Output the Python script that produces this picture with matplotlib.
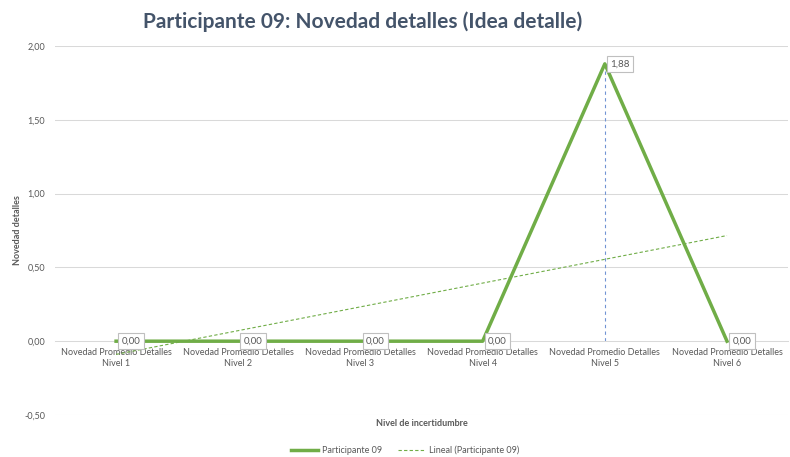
import numpy as np
import matplotlib
matplotlib.use("Agg")
import matplotlib.pyplot as plt

plt.rcParams['font.family'] = ['Lato', 'DejaVu Sans']

categorias = ["Novedad Promedio Detalles\nNivel 1", "Novedad Promedio Detalles\nNivel 2",
              "Novedad Promedio Detalles\nNivel 3", "Novedad Promedio Detalles\nNivel 4",
              "Novedad Promedio Detalles\nNivel 5", "Novedad Promedio Detalles\nNivel 6"]
valores = [0.00, 0.00, 0.00, 0.00, 1.88, 0.00]
etiquetas = ["0,00", "0,00", "0,00", "0,00", "1,88", "0,00"]
yticks = [-0.5, 0.0, 0.5, 1.0, 1.5, 2.0]
ytick_labels = ["-0,50", "0,00", "0,50", "1,00", "1,50", "2,00"]

verde = "#70ad47"
gris = "#595959"

x = np.arange(1, len(valores) + 1)

fig = plt.figure(figsize=(7.9, 4.57), dpi=100)
ax = fig.add_axes([0.0696, 0.092, 0.928, 0.807])

# gridlines
for t in yticks:
    if t != 0:
        ax.axhline(t, color="#d9d9d9", lw=0.75, zorder=0)

# vertical drop line at the maximum
imax = int(np.argmax(valores))
ax.vlines(x[imax], 0, valores[imax], colors="#7294d4", linestyles=(0, (3, 3)), lw=0.8, zorder=1)

ax.plot(x, valores, color=verde, lw=2.5, zorder=3, label="Participante 09")

# linear trendline
m, b = np.polyfit(x, valores, 1)
ax.plot(x, m * x + b, color=verde, lw=0.8, ls=(0, (3, 2)), zorder=2,
        label="Lineal (Participante 09)")

for xi, yi, lab in zip(x, valores, etiquetas):
    ax.annotate(lab, (xi, yi), xytext=(4, 0), textcoords="offset points",
                ha="left", va="center", fontsize=7, color=gris, zorder=5,
                bbox=dict(boxstyle="square,pad=0.35", fc="white", ec="#bfbfbf", lw=0.8))

ax.set_xlim(0.5, 6.5)
ax.set_ylim(-0.5, 2.0)
ax.set_yticks(yticks)
ax.set_yticklabels(ytick_labels)
ax.set_xticks(x)
ax.set_xticklabels(categorias, linespacing=1.3)
ax.tick_params(axis="y", length=0, labelsize=6.5, labelcolor=gris, pad=7)
ax.tick_params(axis="x", length=0, labelsize=6.5, labelcolor=gris, pad=5)

for s in ["top", "right", "left"]:
    ax.spines[s].set_visible(False)
ax.spines["bottom"].set_position(("data", 0))
ax.spines["bottom"].set_color("#d9d9d9")
ax.spines["bottom"].set_linewidth(0.75)

fig.text(18 / 790, 1 - 230 / 457, "Novedad detalles", rotation=90, ha="center", va="center",
         fontsize=6.5, fontweight="bold", color=gris)
fig.text(0.5 * (0.0696 + 0.998), 1 - 424 / 457, "Nivel de incertidumbre", ha="center", va="center",
         fontsize=6.5, fontweight="bold", color=gris)

fig.suptitle("Participante 09: Novedad detalles (Idea detalle)", x=363 / 790,
             y=1 - 22 / 457, va="center", fontsize=15, fontweight="bold", color="#44546a")

leg = fig.legend(loc="center", bbox_to_anchor=(405 / 790, 1 - 450 / 457), ncol=2, frameon=False,
                 fontsize=6.5, handlelength=3.0, columnspacing=1.8, handletextpad=0.4)
for t in leg.get_texts():
    t.set_color(gris)

fig.savefig("out.png", dpi=100)
